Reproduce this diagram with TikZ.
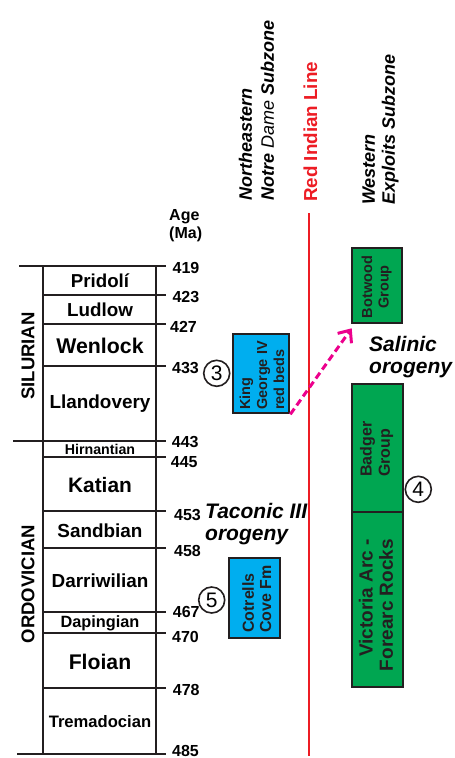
\documentclass[tikz,border=0pt]{standalone}
\usepackage{fontspec}
\setmainfont{Liberation Sans}
\usetikzlibrary{arrows.meta}

\definecolor{unitblue}{HTML}{00AEEF}
\definecolor{unitgreen}{HTML}{00A651}
\definecolor{linered}{HTML}{ED1C24}
\definecolor{arrowpink}{HTML}{EC008C}
\definecolor{ink}{HTML}{231F20}

\newcommand\fsz[2]{\fontsize{#1}{#2}\selectfont}

\begin{document}
\begin{tikzpicture}[x=1pt,y=-1pt,
  rule/.style={line width=2pt, ink},
  stage/.style={inner sep=0pt, font=\bfseries\fsz{#1}{#1}},
  period/.style={inner sep=0pt, rotate=90, font=\bfseries\fsz{18.5}{18.5}},
  agelabel/.style={inner sep=0pt, anchor=west, font=\bfseries\fsz{16}{16}},
  header/.style={inner sep=0pt, rotate=90, anchor=west, align=left},
  unitbox/.style={draw=ink, line width=2pt, inner sep=0pt},
  bluebox/.style={unitbox, fill=unitblue},
  greenbox/.style={unitbox, fill=unitgreen},
  unittext/.style={inner sep=0pt, rotate=90, text=ink},
  circled/.style={circle, draw=ink, line width=1.6pt, minimum size=26pt, inner sep=0pt, font=\fsz{21}{21}},
  orogeny/.style={inner sep=0pt, anchor=west, align=left, font=\bfseries\itshape\fsz{21}{22.5}},
  pinkarrow/.style={arrowpink, line width=3pt, dash pattern=on 7pt off 4pt,
    -{Straight Barb[length=10pt,width=17pt]}}
]
\useasboundingbox (0,0) rectangle (455,758);

% chronostratigraphic column: two verticals and the stage boundaries
\draw[rule] (43,266) -- (43,754);
\draw[rule] (156,266) -- (156,754);
\foreach \y/\xl in {266/19, 295/43, 323.7/43, 365.7/43, 440.7/13, 457.3/43,
                    510.7/43, 547.7/43, 612.3/43, 633.3/43, 688.3/43, 754/17}
  \draw[rule] (\xl,\y) -- (166,\y);

% boundary ages
\foreach \x/\y/\t in {172.5/268/419, 172.3/296.7/423, 170/326.7/427, 172/368.3/433,
                      171.7/441.7/443, 170.7/461.7/445, 174/515/453, 174/551/458,
                      172.7/612.3/467, 172/636.7/470, 172.7/690/478, 172/750.5/485}
  \node[agelabel] (age\t) at (\x,\y) {\t};

\node[inner sep=0pt, anchor=west, align=left, font=\bfseries\fsz{16}{18}] (agehead) at (169,226) {Age\\(Ma)};

% stage names
\node[stage=18.7] (pridoli) at (100,281) {Pridolí};
\node[stage=18.8] (ludlow) at (100,310) {Ludlow};
\node[stage=21.3] (wenlock) at (100,345.5) {Wenlock};
\node[stage=18.9] (llandovery) at (100,404) {Llandovery};
\node[stage=14.2] (hirnantian) at (100,449.5) {Hirnantian};
\node[stage=20.9] (katian) at (100,485.5) {Katian};
\node[stage=18.9] (sandbian) at (100,531) {Sandbian};
\node[stage=18.9] (darriwilian) at (100,580.5) {Darriwilian};
\node[stage=16.3] (dapingian) at (100,623) {Dapingian};
\node[stage=21.2] (floian) at (100,662) {Floian};
\node[stage=16.6] (tremadocian) at (100,721.5) {Tremadocian};

% period names
\node[period] (silurian) at (28,356) {SILURIAN};
\node[period] (ordovician) at (28,584) {ORDOVICIAN};

% column headers
\node[header, font=\bfseries\itshape\fsz{18}{22}] (nndz) at (256.5,201)
  {Northeastern\\Notre {\mdseries Dame} Subzone};
\node[header, font=\bfseries\fsz{18.8}{18.8}, text=linered] (rilhead) at (310.5,202)
  {Red Indian Line};
\node[header, font=\bfseries\itshape\fsz{18}{20}] (wesz) at (380.5,205)
  {Western\\Exploits Subzone};

% Red Indian Line
\draw[linered, line width=2pt] (309.3,213) -- (309.3,756);

% tectonostratigraphic units
\node[bluebox, minimum width=56.6pt, minimum height=79pt] (kg) at (261,373.8) {};
\node[bluebox, minimum width=50.7pt, minimum height=79.4pt] (cc) at (254.7,598) {};
\node[greenbox, minimum width=50pt, minimum height=75pt] (bw) at (376.7,285.8) {};
\node[greenbox, minimum width=50.2pt, minimum height=127.5pt] (bg) at (377.4,448.2) {};
\node[greenbox, minimum width=50.2pt, minimum height=174.7pt] (va) at (377.4,599.3) {};

\node[unittext, align=left, font=\bfseries\fsz{14.5}{17}] (kgtext) at (262,375.5)
  {King\\George IV\\red beds};
\node[unittext, align=left, font=\bfseries\fsz{16}{17.2}] (cctext) at (256.7,599)
  {Cotrells\\Cove Fm};
\node[unittext, align=center, font=\bfseries\fsz{14.5}{16.5}] (bwtext) at (376.5,287)
  {Botwood\\Group};
\node[unittext, align=left, font=\bfseries\fsz{16}{18.3}] (bgtext) at (376.7,449.2)
  {Badger\\Group};
\node[unittext, align=right, font=\bfseries\fsz{19}{20.3}] (vatext) at (376,605)
  {Victoria Arc -\\Forearc Rocks};

% circled references
\node[circled] (n3) at (216.7,373.3) {3};
\node[circled] (n4) at (418.3,489.3) {4};
\node[circled] (n5) at (211.7,600) {5};

% orogenies
\node[orogeny] (taconic) at (205,524) {Taconic III\\orogeny};
\node[orogeny] (salinic) at (369,357) {Salinic\\orogeny};

% link between the red beds and the Botwood Group
\draw[pinkarrow] (kg.south east) -- ([shift={(1,4)}]bw.south west);
\end{tikzpicture}
\end{document}
